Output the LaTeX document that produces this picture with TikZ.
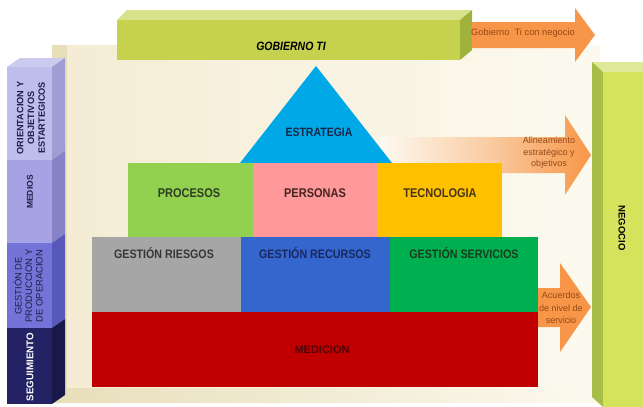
\documentclass[tikz,border=0pt]{standalone}
\usepackage{fontspec}
\setmainfont{Liberation Sans}
\setsansfont{Liberation Sans}
\definecolor{trayDark}{RGB}{232,222,186}
\definecolor{trayMid}{RGB}{244,236,212}
\definecolor{trayLight}{RGB}{252,250,240}
\definecolor{gobFront}{RGB}{198,210,78}
\definecolor{gobTop}{RGB}{216,226,140}
\definecolor{gobSide}{RGB}{160,178,60}
\definecolor{negFront}{RGB}{212,226,92}
\definecolor{negTop}{RGB}{222,232,150}
\definecolor{negSide}{RGB}{168,188,72}
\definecolor{arrOrange}{RGB}{247,150,72}
\definecolor{arrText}{RGB}{150,72,22}
\definecolor{triBlue}{RGB}{0,168,232}
\definecolor{procGreen}{RGB}{146,208,80}
\definecolor{persPink}{RGB}{255,153,153}
\definecolor{tecYellow}{RGB}{255,192,0}
\definecolor{riesGray}{RGB}{166,166,166}
\definecolor{recBlue}{RGB}{52,102,206}
\definecolor{servGreen}{RGB}{0,176,80}
\definecolor{medRed}{RGB}{192,0,0}
\definecolor{colA}{RGB}{190,190,236}
\definecolor{colAs}{RGB}{158,158,212}
\definecolor{colB}{RGB}{166,162,228}
\definecolor{colBs}{RGB}{134,130,200}
\definecolor{colC}{RGB}{116,116,216}
\definecolor{colCs}{RGB}{88,88,186}
\definecolor{colD}{RGB}{34,34,100}
\definecolor{colDs}{RGB}{24,24,74}
\definecolor{colText}{RGB}{30,30,72}
\newcommand{\tall}[1]{\scalebox{1}[1.15]{#1}}
\tikzset{
  blocktxt/.style={font=\fontsize{11}{13}\selectfont\bfseries, inner sep=0pt},
  gesttxt/.style={font=\fontsize{10.7}{13}\selectfont\bfseries, inner sep=0pt},
  arrtxt/.style={font=\fontsize{9}{11.5}\selectfont, text=arrText, align=center, inner sep=0pt},
  coltxt/.style={font=\fontsize{9.2}{10.8}\selectfont\bfseries, text=colText, align=center, inner sep=0pt, rotate=90},
  arch/.style={fill=white}
}
\begin{document}
\begin{tikzpicture}[x=1pt,y=-1pt]
\useasboundingbox (0,0) rectangle (643,407);
\fill[white] (0,0) rectangle (643,407);
% tray background
\fill[trayDark] (52,45) -- (600,45) -- (600,403) -- (52,403) -- cycle;
\shade[left color=trayMid, right color=trayLight] (67,45) -- (600,45) -- (600,388) -- (67,388) -- cycle;
\shade[left color=trayDark, right color=trayLight] (52,403) -- (67,388) -- (600,388) -- (600,403) -- cycle;
% GOBIERNO TI box
\fill[gobTop] (117,20) -- (127,10) -- (472,10) -- (460,20) -- cycle;
\fill[gobSide] (460,20) -- (472,10) -- (472,50) -- (460,60) -- cycle;
\fill[gobFront] (117,20) rectangle (460,60);
\node[font=\fontsize{10.5}{12}\selectfont\bfseries\itshape, inner sep=0pt] (gob) at (291,46) {\tall{GOBIERNO TI}};
% NEGOCIO box
\fill[negTop] (592,62) -- (643,62) -- (643,72) -- (603,72) -- cycle;
\fill[negSide] (592,62) -- (603,72) -- (603,407) -- (592,397) -- cycle;
\fill[negFront] (603,72) rectangle (643,407);
\node[font=\fontsize{9.5}{11}\selectfont\bfseries, inner sep=0pt, rotate=-90] (neg) at (622,228) {NEGOCIO};
% left column
\fill[colA!80!white] (7,67) -- (20,58) -- (65,58) -- (52,67) -- cycle;
\fill[colA] (7,67) rectangle (52,160);
\fill[colAs] (52,67) -- (65,58) -- (65,151) -- (52,160) -- cycle;
\fill[colB] (7,160) rectangle (52,243);
\fill[colBs] (52,160) -- (65,151) -- (65,234) -- (52,243) -- cycle;
\fill[colC] (7,243) rectangle (52,328);
\fill[colCs] (52,243) -- (65,234) -- (65,319) -- (52,328) -- cycle;
\fill[colD] (7,328) rectangle (52,404);
\fill[colDs] (52,328) -- (65,319) -- (65,395) -- (52,404) -- cycle;
\node[coltxt] (orient) at (31,118) {ORIENTACION Y\\OBJETIVOS\\ESTARTEGICOS};
\node[coltxt, font=\fontsize{8.5}{10}\selectfont\bfseries] (medios) at (30,192) {MEDIOS};
\node[coltxt, font=\fontsize{9.4}{10.5}\selectfont] (gprod) at (28,286) {GESTIÓN DE\\PRODUCCION Y\\DE OPERACION};
\node[coltxt, font=\fontsize{9.8}{11}\selectfont\bfseries, text=white] (seg) at (30,367) {SEGUIMIENTO};
% orange arrows
\fill[arrOrange] (472,22) -- (575,22) -- (575,8) -- (595,35) -- (575,62) -- (575,48) -- (472,48) -- cycle;
\node[arrtxt, font=\fontsize{9.3}{11}\selectfont] (gobneg) at (523,33) {Gobierno\ \ Ti con negocio};
\shade[left color=trayLight, right color=arrOrange, middle color=arrOrange!45!trayLight] (380,137) -- (565,137) -- (565,115) -- (591,155) -- (565,195) -- (565,173) -- (380,173) -- cycle;
\node[arrtxt] (alin) at (549,153) {Alineamiento\\estratégico y\\objetivos};
\fill[arrOrange] (538,288) -- (560,288) -- (560,263) -- (591,307) -- (560,352) -- (560,327) -- (538,327) -- cycle;
\node[arrtxt, font=\fontsize{9}{12.5}\selectfont] (acu) at (561,308) {Acuerdos\\de nivel de\\servicio};
% strategy triangle
\fill[triBlue] (316,66) -- (392,163) -- (240,163) -- cycle;
\node[blocktxt, font=\fontsize{10.5}{12}\selectfont\bfseries, text={rgb,255:red,25;green,40;blue,70}] (estr) at (319,132) {\tall{ESTRATEGIA}};
% row 2
\fill[procGreen] (128,163) rectangle (253,237);
\fill[persPink] (253,163) rectangle (377,237);
\fill[tecYellow] (377,163) rectangle (502,237);
\node[blocktxt, text={rgb,255:red,45;green,60;blue,35}] (proc) at (189,193) {\tall{PROCESOS}};
\node[blocktxt, text={rgb,255:red,70;green,35;blue,35}] (pers) at (315,193) {\tall{PERSONAS}};
\node[blocktxt, text={rgb,255:red,70;green,55;blue,20}] (tec) at (440,193) {\tall{TECNOLOGIA}};
% row 3
\fill[riesGray] (92,237) rectangle (241,312);
\fill[recBlue] (241,237) rectangle (390,312);
\fill[servGreen] (390,237) rectangle (538,312);
\fill[arch] (137,312) arc[start angle=180, end angle=0, x radius=30, y radius=42] -- cycle;
\fill[arch] (285,312) arc[start angle=180, end angle=0, x radius=30, y radius=42] -- cycle;
\fill[arch] (435,312) arc[start angle=180, end angle=0, x radius=30, y radius=45] -- cycle;
\node[gesttxt, text={rgb,255:red,55;green,55;blue,55}] (ries) at (164,253) {\tall{GESTIÓN RIESGOS}};
\node[gesttxt, text={rgb,255:red,25;green,40;blue,95}] (rec) at (315,253) {\tall{GESTIÓN RECURSOS}};
\node[gesttxt, text={rgb,255:red,25;green,60;blue,30}] (serv) at (464,253) {\tall{GESTIÓN SERVICIOS}};
% medicion
\fill[medRed] (92,312) rectangle (538,387);
\node[blocktxt, text={rgb,255:red,80;green,5;blue,5}] (med) at (322,350) {MEDICION};
\end{tikzpicture}
\end{document}
